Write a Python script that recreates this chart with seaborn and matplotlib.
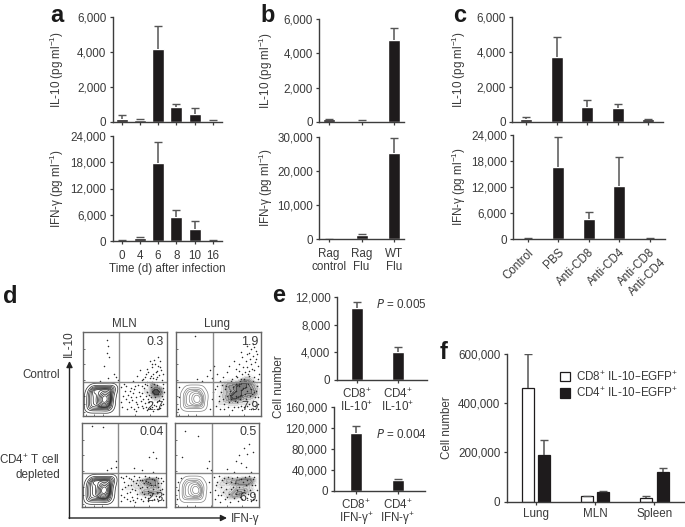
# plot.py
# Multi panel cytokine figure: bar charts (a, b, c, e, f) and flow plots (d).

import matplotlib
matplotlib.use("Agg")
import matplotlib.pyplot as plt
import pandas as pd
import seaborn as sns

# -----------------------------------------------------------------------------
# Values. "tops" are the upper ends of the error bars.
# -----------------------------------------------------------------------------
A_DAYS = ["0", "4", "6", "8", "10", "16"]
A_IL10 = [170, 130, 4150, 880, 470, 70]
A_IL10_TOPS = [400, 190, 5480, 1020, 820, 110]
A_IFN = [100, 800, 17800, 5400, 2800, 100]
A_IFN_TOPS = [200, 1000, 22600, 7200, 4500, 150]

B_GROUPS = ["Rag\ncontrol", "Rag\nFlu", "WT\nFlu"]
B_IL10 = [150, 80, 4750]
B_IL10_TOPS = [200, 110, 5450]
B_IFN = [50, 1100, 25200]
B_IFN_TOPS = [80, 1400, 29800]

C_GROUPS = ["Control", "PBS", "Anti-CD8", "Anti-CD4", "Anti-CD8\nAnti-CD4"]
C_IL10 = [150, 3700, 840, 780, 150]
C_IL10_TOPS = [280, 4850, 1270, 1050, 200]
C_IFN = [100, 16600, 4700, 12200, 100]
C_IFN_TOPS = [200, 23500, 6300, 19000, 150]

E_TOP_GROUPS = ["CD8$^{+}$\nIL-10$^{+}$", "CD4$^{+}$\nIL-10$^{+}$"]
E_TOP = [10400, 4100]
E_TOP_TOPS = [11300, 4700]
E_BOTTOM_GROUPS = ["CD8$^{+}$\nIFN-γ$^{+}$", "CD4$^{+}$\nIFN-γ$^{+}$"]
E_BOTTOM = [110000, 20000]
E_BOTTOM_TOPS = [124000, 21500]

F_TISSUES = ["Lung", "MLN", "Spleen"]
F_SERIES = ["CD8$^{+}$ IL-10–EGFP$^{+}$", "CD4$^{+}$ IL-10–EGFP$^{+}$"]
F_CD8 = [460000, 23000, 16000]
F_CD8_TOPS = [600000, 25000, 23000]
F_CD4 = [190000, 38000, 122000]
F_CD4_TOPS = [250000, 45000, 135000]

# Flow plots: (IFN-g, IL-10) in percent of the plot box, read by eye.
MLN_BLOB = [(8, 9), (13, 9), (18, 9), (23, 9), (28, 9), (32, 9),
            (8, 14), (13, 14), (18, 14), (23, 14), (28, 14), (33, 14),
            (8, 19), (13, 19), (18, 19), (23, 19), (28, 19), (33, 19),
            (8, 24), (13, 24), (18, 24), (23, 24), (28, 24), (34, 24),
            (9, 29), (14, 29), (19, 29), (24, 29), (29, 29), (35, 29),
            (12, 33), (17, 33), (22, 33), (27, 33), (32, 33), (36, 33),
            (25, 16), (26, 19), (27, 22), (25, 24), (27, 18), (26, 21), (28, 24), (26, 17)]
LUNG_BLOB = [(11, 11), (16, 11), (21, 11), (26, 11), (31, 11),
             (11, 16), (16, 16), (21, 16), (26, 16), (31, 16),
             (11, 21), (16, 21), (21, 21), (26, 21), (32, 21),
             (11, 26), (16, 26), (21, 26), (26, 26), (32, 26),
             (14, 31), (19, 31), (24, 31), (29, 31),
             (24, 18), (25, 21), (24, 23), (26, 19)]

MLN_CTRL_CLUMP = [(74, 30), (78, 26), (80, 33), (83, 22), (84, 28), (85, 36), (87, 31), (88, 25), (90, 34),
                  (91, 28), (93, 22), (94, 32), (88, 19), (82, 38), (95, 27), (86, 28)]
LUNG_CTRL_CLUMP = [(50, 14), (55, 26), (60, 20), (62, 32), (66, 14), (68, 24), (72, 34), (74, 28), (78, 16),
                   (80, 24), (84, 36), (86, 30), (90, 24), (92, 36), (80, 42), (86, 44),
                   (70, 22), (76, 36), (56, 38), (64, 38), (94, 28), (90, 14)]
MLN_DEP_CLUMP = [(60, 30), (66, 24), (72, 30), (76, 22), (80, 32), (84, 26), (88, 32), (90, 24), (78, 16), (86, 16),
                 (70, 16), (92, 18), (82, 30), (54, 22)]
LUNG_DEP_CLUMP = [(52, 26), (58, 18), (66, 30), (72, 22), (76, 30), (80, 18), (86, 28), (90, 20), (92, 32), (66, 12),
                  (82, 32), (74, 14), (60, 34)]

MLN_CTRL_DOTS = [(29, 91), (30, 83), (29, 75), (31, 70), (25, 60), (37, 50), (40, 46), (42, 43), (30, 45), (20, 42),
                 (86, 62), (90, 60), (82, 58), (93, 55), (88, 54), (78, 52), (84, 50), (91, 49), (74, 47), (80, 45),
                 (87, 44), (94, 43), (70, 43), (76, 41), (83, 41), (65, 48), (60, 42), (92, 65), (85, 67), (68, 55),
                 (46, 35), (50, 30), (48, 24), (46, 17), (47, 10), (52, 36), (54, 25), (55, 16), (53, 8), (58, 33),
                 (60, 27), (59, 19), (58, 11), (62, 36), (64, 22), (65, 14), (63, 6), (67, 29), (70, 36), (69, 18),
                 (72, 9), (74, 15), (73, 33), (77, 7), (79, 16), (77, 37), (82, 11), (84, 6), (87, 12), (90, 8),
                 (93, 13), (95, 20), (96, 33), (95, 38), (79, 25), (75, 24), (71, 27), (81, 34), (85, 38), (89, 37),
                 (49, 38), (51, 20), (56, 30), (57, 22), (61, 8), (61, 32), (63, 16), (66, 10), (66, 37), (68, 24),
                 (71, 12), (72, 20), (74, 38), (75, 10), (76, 29), (78, 20), (80, 9), (81, 22), (83, 17), (85, 13),
                 (86, 23), (88, 8), (89, 16), (91, 19), (92, 9), (94, 24), (96, 14), (97, 28), (84, 45), (89, 47),
                 (92, 58), (87, 52), (81, 48), (75, 50), (72, 44), (77, 56), (83, 62), (95, 50), (90, 70), (80, 65)]
LUNG_CTRL_DOTS = [(22, 95), (40, 55), (36, 48), (30, 42), (42, 45), (25, 44), (45, 60), (48, 50), (55, 47), (60, 52),
                  (66, 44), (70, 56), (74, 62), (78, 70), (82, 66), (86, 75), (90, 72), (94, 68), (88, 62), (84, 58),
                  (92, 55), (78, 50), (72, 47), (80, 44), (86, 48), (92, 46), (96, 60), (94, 78), (88, 80), (76, 76),
                  (68, 66), (62, 60), (83, 84), (90, 86), (95, 74), (86, 54), (98, 50), (75, 42), (65, 42), (52, 42),
                  (46, 32), (50, 24), (47, 12), (52, 8), (56, 14), (58, 32), (61, 11), (64, 25), (66, 7), (69, 18),
                  (70, 38), (73, 10), (76, 31), (78, 7), (81, 26), (83, 12), (85, 38), (88, 8), (90, 18), (93, 12),
                  (96, 22), (95, 36), (97, 8), (54, 37), (60, 24), (70, 30), (75, 20), (82, 34), (87, 24), (92, 28),
                  (2, 8), (3, 22), (3, 35), (44, 28), (42, 20), (40, 8),
                  (48, 36), (50, 18), (53, 28), (55, 20), (57, 8), (59, 36), (62, 16), (63, 30), (65, 20), (67, 34),
                  (68, 11), (71, 24), (72, 16), (74, 36), (76, 12), (77, 25), (79, 33), (80, 10), (82, 20), (84, 30),
                  (86, 14), (88, 32), (89, 26), (91, 8), (93, 22), (94, 30), (96, 14), (81, 52), (85, 50), (89, 56),
                  (93, 64), (87, 68), (79, 58), (74, 54), (83, 74), (92, 82), (70, 48), (77, 44), (90, 42), (97, 44)]
MLN_DEP_DOTS = [(12, 97), (25, 95), (40, 55), (35, 46), (30, 44), (41, 48), (62, 47), (72, 44), (80, 60), (85, 65),
                (88, 58), (84, 42), (46, 36), (50, 30), (48, 22), (47, 14), (46, 7), (52, 37), (55, 26), (54, 17),
                (53, 9), (58, 33), (60, 21), (59, 12), (62, 37), (64, 28), (65, 15), (63, 6), (68, 36), (69, 23),
                (70, 10), (72, 32), (74, 16), (75, 37), (77, 24), (78, 7), (80, 36), (81, 14), (83, 33), (84, 22),
                (86, 10), (88, 36), (89, 18), (91, 28), (92, 12), (94, 35), (95, 22), (96, 8), (79, 30), (82, 26),
                (86, 32), (90, 24), (74, 28), (66, 32), (57, 7), (50, 12),
                (49, 34), (51, 24), (56, 34), (57, 18), (58, 26), (61, 8), (61, 31), (63, 20), (66, 11), (67, 26),
                (69, 32), (71, 18), (72, 24), (73, 7), (75, 12), (76, 31), (78, 19), (79, 11), (81, 28), (83, 8),
                (85, 17), (87, 26), (88, 13), (90, 34), (91, 7), (93, 20), (94, 28), (96, 16), (97, 31)]
LUNG_DEP_DOTS = [(12, 90), (27, 85), (8, 60), (38, 46), (40, 55), (43, 44), (62, 45), (70, 42), (72, 55), (76, 62),
                 (78, 52), (82, 70), (85, 63), (88, 75), (84, 48), (92, 66), (90, 42), (46, 36), (50, 30), (48, 20),
                 (47, 10), (52, 37), (55, 24), (54, 14), (53, 6), (58, 34), (60, 22), (59, 9), (63, 36), (64, 16),
                 (65, 6), (68, 35), (69, 24), (70, 11), (73, 36), (74, 20), (75, 7), (78, 33), (79, 17), (80, 9),
                 (83, 36), (84, 26), (85, 11), (88, 37), (89, 20), (90, 7), (92, 33), (94, 16), (95, 26), (96, 8),
                 (2, 10), (3, 20), (4, 30), (7, 35), (40, 30), (41, 18),
                 (49, 26), (51, 14), (56, 32), (57, 18), (61, 28), (62, 12), (66, 22), (67, 30), (71, 28), (72, 16),
                 (76, 24), (77, 12), (81, 30), (82, 20), (86, 32), (87, 16), (91, 26), (93, 10), (94, 36), (97, 20)]

D_NUMBERS = [("0.3", "2.7"), ("1.9", "7.9"), ("0.04", "2.3"), ("0.5", "6.9")]

# -----------------------------------------------------------------------------
# Style
# -----------------------------------------------------------------------------
W, H = 685, 527
BLACK = "#1e1b1c"
INK = "#3a3a3a"
LINE = "#3c3c3c"

sns.set_style("ticks")
plt.rcParams["font.family"] = ["Liberation Sans", "DejaVu Sans"]
plt.rcParams["mathtext.default"] = "regular"
plt.rcParams["font.size"] = 8.4
plt.rcParams["text.color"] = INK
plt.rcParams["xtick.color"] = INK
plt.rcParams["ytick.color"] = INK
plt.rcParams["axes.labelcolor"] = INK
plt.rcParams["axes.edgecolor"] = LINE

fig = plt.figure(figsize=(W / 100, H / 100), dpi=100, facecolor="white")


def px_axes(left, top, right, bottom):
    # Axes from a box given in picture pixels.
    ax = fig.add_axes([left / W, 1 - bottom / H, (right - left) / W, (bottom - top) / H])
    ax.patch.set_alpha(0)
    return ax


def fig_text(x, y, s, **kw):
    return fig.text(x / W, 1 - y / H, s, **kw)


def style_axes(ax, ymax, yticks, label, label_x, left):
    ax.set_ylim(0, ymax)
    ax.set_yticks(yticks)
    ax.set_yticklabels([f"{t:,}" for t in yticks])
    ax.set_xlabel("")
    ax.set_ylabel(label, fontsize=8.4, va="center")
    ax.yaxis.set_label_coords((label_x - left) / ax.get_position().width / W, 0.5)
    ax.tick_params(axis="both", length=2.5, width=0.9, pad=2, labelsize=8.4)
    for side in ["left", "bottom"]:
        ax.spines[side].set_linewidth(1.0)
    sns.despine(ax=ax)


def upper_errors(ax, xs, vals, tops):
    # Error bars go up only, so the lower cap is hidden.
    cont = ax.errorbar(xs, vals, yerr=[[0] * len(vals), [t - v for t, v in zip(tops, vals)]],
                       fmt="none", ecolor="#555555", elinewidth=1.1, capsize=2.8, capthick=1.0)
    cont[1][0].set_visible(False)


def bar_panel(box, cats, vals, tops, first, step, ymax, yticks, label, label_x, show_labels=True):
    # One black bar chart with upper error bars only.
    left, top, right, bottom = box
    ax = px_axes(*box)
    df = pd.DataFrame({"cat": cats, "val": vals})
    sns.barplot(data=df, x="cat", y="val", color=BLACK, saturation=1, width=12 / step,
                errorbar=None, ax=ax)
    upper_errors(ax, list(range(len(cats))), vals, tops)
    ax.set_xlim((left - first) / step, (right - first) / step)
    style_axes(ax, ymax, yticks, label, label_x, left)
    if not show_labels:
        ax.set_xticklabels([])
    return ax


IL10 = "IL-10 (pg ml$^{-1}$)"
IFN = "IFN-γ (pg ml$^{-1}$)"
T6 = [0, 2000, 4000, 6000]
T24 = [0, 6000, 12000, 18000, 24000]

# Panel a
bar_panel((112.5, 17, 222, 122), A_DAYS, A_IL10, A_IL10_TOPS, 121.7, 18.2, 6000, T6, IL10, 57, False)
ax = bar_panel((112.5, 136, 222, 241), A_DAYS, A_IFN, A_IFN_TOPS, 121.7, 18.2, 24000, T24, IFN, 57)
ax.tick_params(axis="x", pad=4)
ax.set_xlabel("Time (d) after infection", fontsize=8.4, labelpad=1)

# Panel b
bar_panel((319, 19, 404, 122), B_GROUPS, B_IL10, B_IL10_TOPS, 329, 32.5, 6000, T6, IL10, 266, False)
ax = bar_panel((319, 137, 404, 239), B_GROUPS, B_IFN, B_IFN_TOPS, 329, 32.5, 30000, [0, 10000, 20000, 30000], IFN, 266)
ax.tick_params(axis="x", pad=4)
plt.setp(ax.get_xticklabels(), linespacing=1.1)

# Panel c
bar_panel((512, 17, 663, 122), C_GROUPS, C_IL10, C_IL10_TOPS, 526, 30.5, 6000, T6, IL10, 459, False)
ax = bar_panel((513, 135, 665, 239), C_GROUPS, C_IFN, C_IFN_TOPS, 558 - 30.5, 30.5, 24000, T24, IFN, 459)
ax.tick_params(axis="x", pad=3)
plt.setp(ax.get_xticklabels(), rotation=45, ha="right", rotation_mode="anchor", linespacing=1.25)

# Panel e
ax = bar_panel((336.7, 297, 427, 380), E_TOP_GROUPS, E_TOP, E_TOP_TOPS, 357, 41, 12000,
               [0, 4000, 8000, 12000], "", 279)
ax.tick_params(axis="x", pad=3)
plt.setp(ax.get_xticklabels(), linespacing=0.85)
ax = bar_panel((334, 407, 425, 490.7), E_BOTTOM_GROUPS, E_BOTTOM, E_BOTTOM_TOPS, 356, 41.7, 160000,
               [0, 40000, 80000, 120000, 160000], "", 279)
ax.tick_params(axis="x", pad=3)
plt.setp(ax.get_xticklabels(), linespacing=0.85)
fig_text(279, 387, "Cell number", rotation=90, ha="center", va="center")
fig_text(376, 304, "$\\mathit{P}$ = 0.005", ha="left", va="center")
fig_text(376, 435, "$\\mathit{P}$ = 0.004", ha="left", va="center")

# Panel f
ax = px_axes(506.7, 353.7, 684, 501.7)
f_df = pd.DataFrame({
    "tissue": F_TISSUES * 2,
    "group": [F_SERIES[0]] * 3 + [F_SERIES[1]] * 3,
    "cells": F_CD8 + F_CD4,
})
sns.barplot(data=f_df, x="tissue", y="cells", hue="group", hue_order=F_SERIES,
            palette=["white", BLACK], saturation=1, width=0.553, gap=0.264,
            edgecolor=BLACK, linewidth=0.9, errorbar=None, ax=ax)
for cont, vals, tops in zip(ax.containers, [F_CD8, F_CD4], [F_CD8_TOPS, F_CD4_TOPS]):
    xs = [b.get_x() + b.get_width() / 2 for b in cont]
    upper_errors(ax, xs, vals, tops)
ax.set_xlim((506.7 - 536) / 59.2, (684 - 536) / 59.2)
style_axes(ax, 600000, [0, 200000, 400000, 600000], "Cell number", 446.7, 506.7)
leg = ax.legend(loc="upper left", bbox_to_anchor=((560 - 506.7) / 177.3, 1 - (370 - 353.7) / 148),
                frameon=False, fontsize=8.4, handlelength=0.85, handleheight=0.85,
                handletextpad=0.5, labelspacing=0.2, borderaxespad=0, borderpad=0)

# Panel d
FLOW_BOXES = [(82.7, 332.3, 166.7, 415.7), (176, 332.3, 261, 415.7),
              (82, 423, 166, 507), (175, 423, 259.3, 507)]
FLOW_GATES = [43, 44, 43, 44]
FLOW_DOTS = [MLN_CTRL_DOTS, LUNG_CTRL_DOTS, MLN_DEP_DOTS, LUNG_DEP_DOTS]
FLOW_CLUMPS = [MLN_CTRL_CLUMP, LUNG_CTRL_CLUMP, MLN_DEP_CLUMP, LUNG_DEP_CLUMP]
FLOW_BLOBS = [MLN_BLOB, LUNG_BLOB, MLN_BLOB, LUNG_BLOB]
BLOB_STYLE = [("#2a2a2a", 13, 0.5), ("#808080", 8, 0.5), ("#2a2a2a", 13, 0.5), ("#808080", 8, 0.5)]
CLUMP_STYLE = [(0.12, 0.8), (0.1, 0.55), (0.12, 0.5), (0.12, 0.45)]

for i, box in enumerate(FLOW_BOXES):
    ax = px_axes(*box)
    blob = pd.DataFrame(FLOW_BLOBS[i], columns=["x", "y"])
    clump = pd.DataFrame(FLOW_CLUMPS[i], columns=["x", "y"])
    dots = pd.DataFrame(FLOW_DOTS[i], columns=["x", "y"])
    col, lev, lw = BLOB_STYLE[i]
    thr, alpha = CLUMP_STYLE[i]
    sns.kdeplot(data=clump, x="x", y="y", fill=True, levels=8, thresh=thr, bw_adjust=0.8,
                cmap="Greys", alpha=alpha, ax=ax)
    sns.kdeplot(data=blob, x="x", y="y", levels=lev, thresh=0.03, bw_adjust=0.85,
                color=col, linewidths=lw, ax=ax)
    sns.scatterplot(data=dots, x="x", y="y", s=1.2, color="#2a2a2a", linewidth=0, ax=ax)
    ax.axvline(FLOW_GATES[i], color="#8a8a8a", lw=1.0)
    ax.axhline(40, color="#8a8a8a", lw=1.0)
    ax.set_xlim(0, 100)
    ax.set_ylim(0, 100)
    ax.set_xlabel("")
    ax.set_ylabel("")
    ax.set_xticks([4, 14, 24, 43, 62, 80])
    ax.set_yticks([4, 14, 24, 43, 62, 80])
    ax.set_xticklabels([])
    ax.set_yticklabels([])
    ax.tick_params(direction="in", length=1.5, width=0.6, color="#555555")
    for sp in ax.spines.values():
        sp.set_color("#666666")
        sp.set_linewidth(1.0)
        sp.set_visible(True)
    top_num, bottom_num = D_NUMBERS[i]
    ax.text(97, 96, top_num, ha="right", va="top", fontsize=9)
    ax.text(97, 3, bottom_num, ha="right", va="bottom", fontsize=9)

fig_text(124, 324, "MLN", ha="center", va="center")
fig_text(217, 324, "Lung", ha="center", va="center")
fig_text(60, 375.5, "Control", ha="right", va="center")
fig_text(60, 467, "CD4$^{+}$ T cell\ndepleted", ha="right", va="center", linespacing=1.25)
fig_text(69, 344, "IL-10", rotation=90, ha="center", va="center")
fig_text(231, 519, "IFN-γ", ha="left", va="center")

# Gate axes arrows in figure pixels
arrow_ax = fig.add_axes([0, 0, 1, 1], facecolor="none")
arrow_ax.set_xlim(0, W)
arrow_ax.set_ylim(H, 0)
arrow_ax.axis("off")
arrow_ax.annotate("", xy=(69.5, 361), xytext=(69.5, 518.5),
                  arrowprops=dict(arrowstyle="-|>", color="#222222", lw=1.0, shrinkA=0, shrinkB=0, mutation_scale=9))
arrow_ax.annotate("", xy=(227, 518), xytext=(69, 518),
                  arrowprops=dict(arrowstyle="-|>", color="#222222", lw=1.0, shrinkA=0, shrinkB=0, mutation_scale=9))

# Panel letters
for letter, x, y in [("a", 50, 22), ("b", 260, 22.5), ("c", 453, 22), ("d", 3, 303), ("e", 272, 302), ("f", 440, 359)]:
    fig_text(x, y, letter, fontsize=17, fontweight="bold", color="#1a1a1a", va="baseline", ha="left")

fig.savefig("out.png", dpi=100, facecolor="white")
